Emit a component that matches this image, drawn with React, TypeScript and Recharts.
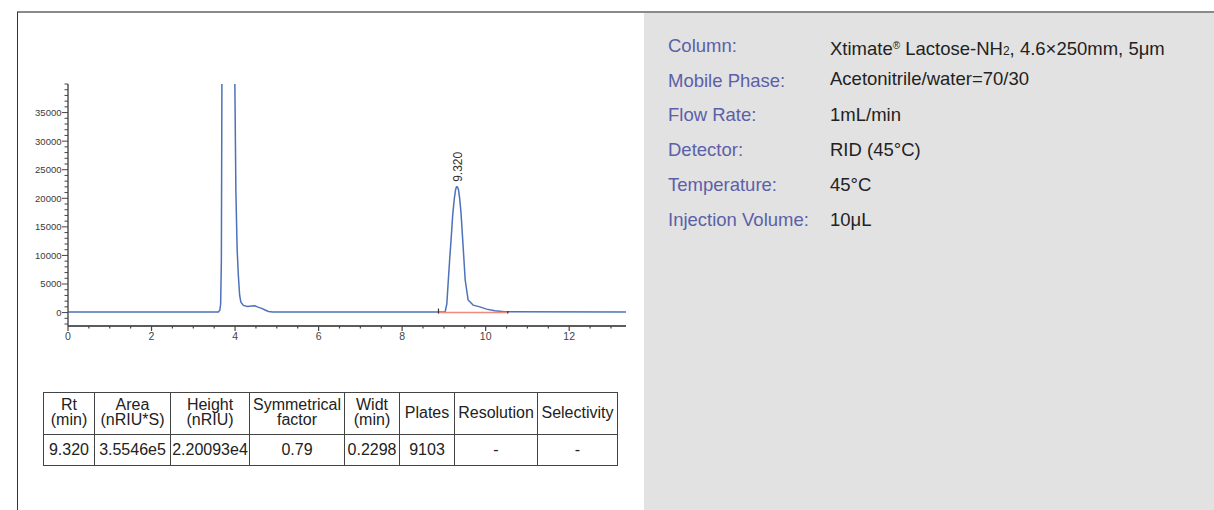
import React from "react";
import { ComposedChart, Line, Scatter, XAxis, YAxis } from "recharts";

// RID trace (time in min, signal in nRIU)
const retentionTime = [
  0, 3.6, 3.635, 3.655, 3.672, 3.685, 3.7, 3.97, 3.995, 4.02, 4.05, 4.08, 4.11, 4.14,
  4.2, 4.3, 4.4, 4.47, 4.55, 4.65, 4.72, 4.8, 4.9, 8.95, 9.03, 9.07, 9.1, 9.14, 9.17,
  9.21, 9.25, 9.28, 9.3, 9.32, 9.35, 9.38, 9.41, 9.46, 9.51, 9.58, 9.7, 9.86, 10.02,
  10.22, 10.45, 13.36,
];
const signal = [
  100, 110, 400, 1500, 9000, 40000, 90000, 90000, 40000, 21000, 11000, 6300, 3000, 1800,
  1250, 1050, 1150, 1180, 950, 700, 450, 200, 100, 100, 150, 1500, 5000, 9500, 12500,
  17000, 20000, 21500, 22000, 22009, 21500, 19800, 17400, 11600, 5700, 2200, 1300, 1000,
  600, 300, 150, 100,
];

// integration baseline of the main peak
const baselineTimes = [8.87, 10.53];
const baselineLevel = [0, 0];

// peak annotation
const peakTimes = [9.32];
const peakHeights = [22009];
const peakLabels = ["9.320"];

const yLabels = [0, 5000, 10000, 15000, 20000, 25000, 30000, 35000];
const xLabels = [0, 2, 4, 6, 8, 10, 12];
const yMinorStep = 1000;
const xMinorStep = 0.5;

const tableHeads = [
  ["Rt", "(min)"],
  ["Area", "(nRIU*S)"],
  ["Height", "(nRIU)"],
  ["Symmetrical", "factor"],
  ["Widt", "(min)"],
  ["Plates"],
  ["Resolution"],
  ["Selectivity"],
];
const tableRow = ["9.320", "3.5546e5", "2.20093e4", "0.79", "0.2298", "9103", "-", "-"];
const colWidths = [51, 76, 79, 95, 55, 55, 83, 80];

const conditionNames = [
  "Column:",
  "Mobile Phase:",
  "Flow Rate:",
  "Detector:",
  "Temperature:",
  "Injection Volume:",
];
const conditionValues = [
  "Xtimate® Lactose-NH₂, 4.6×250mm, 5μm",
  "Acetonitrile/water=70/30",
  "1mL/min",
  "RID (45°C)",
  "45°C",
  "10μL",
];

const yTicks: number[] = [];
for (let v = -2000; v <= 40000; v += yMinorStep) yTicks.push(v);
const xTicks: number[] = [];
for (let v = 0; v <= 13; v += xMinorStep) xTicks.push(v);

const traceData = retentionTime.map((t, i) => ({ t, v: signal[i] }));
const baseData = baselineTimes.map((t, i) => ({ t, v: baselineLevel[i] }));
const peakData = peakTimes.map((t, i) => ({ t, v: peakHeights[i], label: peakLabels[i] }));

const axisFont = "'Liberation Sans', Arial, sans-serif";

function XTick({ x, y, payload }: any) {
  const major = xLabels.includes(payload.value);
  return (
    <g>
      <line x1={x} x2={x} y1={y} y2={y + (major ? 5 : 2.5)} stroke="#444" strokeWidth={1.2} />
      {major && (
        <text x={x} y={y + 14} textAnchor="middle" fontSize={10.5} fill="#444" fontFamily={axisFont}>
          {payload.value}
        </text>
      )}
    </g>
  );
}

function YTick({ x, y, payload }: any) {
  const major = yLabels.includes(payload.value);
  return (
    <g>
      <line x1={x - (major ? 6 : 3.5)} x2={x} y1={y} y2={y} stroke="#444" strokeWidth={1} />
      {major && (
        <text x={x - 6.5} y={y + 3.4} textAnchor="end" fontSize={9.5} fill="#3a3a3a" fontFamily={axisFont}>
          {payload.value}
        </text>
      )}
    </g>
  );
}

function BaseEnd({ cx, cy, index }: any) {
  if (cx == null || cy == null) return <g key={index} />;
  return (
    <line key={index} x1={cx} x2={cx} y1={cy - (index === 0 ? 4 : 1.5)} y2={cy + 1} stroke="#333" strokeWidth={1.2} />
  );
}

function PeakLabel({ cx, cy, payload }: any) {
  return (
    <text
      x={cx + 4.5}
      y={cy - 5}
      transform={`rotate(-90 ${cx + 4.5} ${cy - 5})`}
      fontSize={12}
      fill="#333"
      fontFamily={axisFont}
    >
      {payload.label}
    </text>
  );
}

function RichText({ text }: { text: string }) {
  const parts = text.split(/(®|₂)/);
  return (
    <>
      {parts.map((p, i) =>
        p === "®" ? (
          <sup key={i} style={{ fontSize: 10, verticalAlign: 6 }}>®</sup>
        ) : p === "₂" ? (
          <span key={i} style={{ fontSize: 12 }}>2</span>
        ) : (
          <span key={i}>{p}</span>
        )
      )}
    </>
  );
}

export default function App() {
  return (
    <div
      style={{
        position: "fixed",
        left: 0,
        top: 0,
        width: 1214,
        height: 510,
        background: "#fff",
        overflow: "hidden",
        fontFamily: "'Liberation Sans', Arial, sans-serif",
      }}
    >
      {/* frame */}
      <div style={{ position: "absolute", left: 17, top: 10.5, right: 0, height: 2, background: "#8a8a8a" }} />
      <div style={{ position: "absolute", left: 17, top: 12, width: 1, bottom: 0, background: "#333" }} />
      <div style={{ position: "absolute", left: 644, top: 12.5, right: 0, bottom: 0, background: "#e2e2e2" }} />

      {/* chromatogram */}
      <div style={{ position: "absolute", left: 0, top: 0 }}>
        <ComposedChart width={640} height={346} margin={{ top: 84, right: 14, bottom: 0, left: 0 }}>
          <XAxis
            type="number"
            dataKey="t"
            domain={[0, 13.36]}
            allowDataOverflow
            ticks={xTicks}
            interval={0}
            tick={<XTick />}
            tickLine={false}
            tickSize={0}
            tickMargin={0}
            axisLine={{ stroke: "#5c5c5c", strokeWidth: 2 }}
            height={20}
          />
          <YAxis
            type="number"
            domain={[-2350, 40000]}
            allowDataOverflow
            ticks={yTicks}
            interval={0}
            tick={<YTick />}
            tickLine={false}
            tickSize={0}
            tickMargin={0}
            axisLine={{ stroke: "#555", strokeWidth: 1.5 }}
            width={68}
          />
          <Line
            data={traceData}
            dataKey="v"
            type="linear"
            stroke="#4d72b8"
            strokeWidth={1.5}
            dot={false}
            isAnimationActive={false}
          />
          <Line
            data={baseData}
            dataKey="v"
            type="linear"
            stroke="#f08a7c"
            strokeWidth={1.4}
            dot={<BaseEnd />}
            isAnimationActive={false}
          />
          <Scatter data={peakData} dataKey="v" shape={<PeakLabel />} isAnimationActive={false} />
        </ComposedChart>
      </div>

      {/* peak table */}
      <table
        style={{
          position: "absolute",
          left: 43,
          top: 392,
          borderCollapse: "collapse",
          tableLayout: "fixed",
          fontSize: 16,
          color: "#222",
          border: "1.5px solid #333",
        }}
      >
        <colgroup>
          {colWidths.map((w, i) => (
            <col key={i} style={{ width: w }} />
          ))}
        </colgroup>
        <tbody>
          <tr style={{ height: 42 }}>
            {tableHeads.map((h, i) => (
              <td
                key={i}
                style={{
                  border: "1px solid #444",
                  textAlign: "center",
                  padding: "0 0 3px 0",
                  lineHeight: "15px",
                  whiteSpace: "nowrap",
                }}
              >
                {h.map((line, j) => (
                  <div key={j}>{line}</div>
                ))}
              </td>
            ))}
          </tr>
          <tr style={{ height: 31 }}>
            {tableRow.map((c, i) => (
              <td
                key={i}
                style={{ border: "1px solid #444", textAlign: "center", padding: 0, whiteSpace: "nowrap" }}
              >
                {c}
              </td>
            ))}
          </tr>
        </tbody>
      </table>

      {/* conditions */}
      {conditionNames.map((name, i) => (
        <div key={name}>
          <div
            style={{
              position: "absolute",
              left: 668,
              top: 35 + i * 34.7,
              fontSize: 18.5,
              lineHeight: "22px",
              color: "#5b60a8",
              whiteSpace: "nowrap",
            }}
          >
            {name}
          </div>
          <div
            style={{
              position: "absolute",
              left: 830,
              top: 35 + i * 34.7 - (i === 1 ? 2 : 0),
              fontSize: 18.5,
              lineHeight: "22px",
              color: "#222",
              whiteSpace: "nowrap",
            }}
          >
            <RichText text={conditionValues[i]} />
          </div>
        </div>
      ))}
    </div>
  );
}
